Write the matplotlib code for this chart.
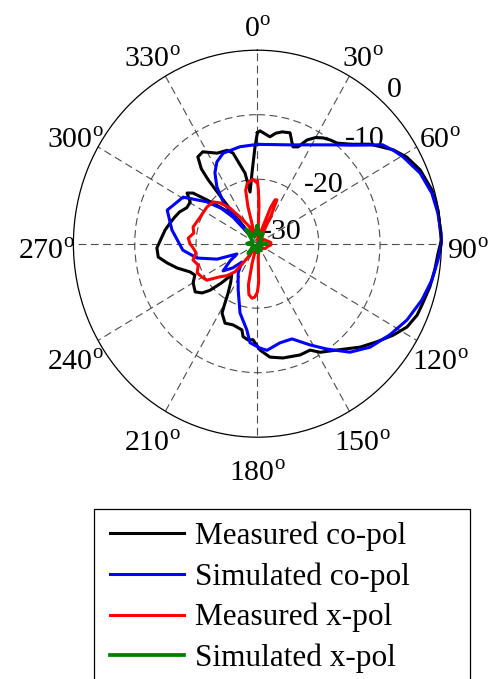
import numpy as np
import matplotlib
matplotlib.use("Agg")
import matplotlib.pyplot as plt
import matplotlib.transforms as mtransforms
from matplotlib.lines import Line2D
from matplotlib.legend_handler import HandlerLine2D

plt.rcParams['font.family'] = ['Liberation Serif', 'DejaVu Serif']
plt.rcParams['mathtext.fontset'] = 'custom'
plt.rcParams['mathtext.rm'] = 'Liberation Serif'

# ---- radiation pattern data (angle in degrees, clockwise from broadside; level in dB) ----
meas_co_theta = [0, 1.4, 4, 7, 10, 13.1, 17.2, 19.5, 21.1, 23.8, 26.7, 30, 33.2, 36.5, 39.8,
                 45, 50, 56.7, 61.1, 66.7, 73.7, 80, 88.9, 92.8, 98, 103.4, 108.8, 113,
                 117.9, 122.6, 128, 133.7, 141.7, 148.7, 152.5, 158, 166.8, 173.4, 178.5,
                 182.8, 186, 189.2, 190.7, 197.5, 203.2, 208.2, 209.9, 212, 216, 221, 224,
                 227, 229.7, 233.6, 240, 244.5, 248.2, 253.9, 258.5, 262.7, 267.7, 273.9,
                 278, 282.7, 287, 291.3, 295.8, 300.5, 304.4, 306.8, 309.5, 313, 316.9,
                 318.4, 319.5, 320.2, 320.6, 321.0, 321.8, 324.2, 328, 334.9, 341.2, 344.2,
                 349.6, 351.5, 355.4, 358.5, 360]
meas_co_db = [-12.8, -12.5, -12.9, -13.3, -12.6, -12.2, -12.0, -13.2, -13.9, -13.6, -12.0,
              -11.0, -10.4, -10.0, -9.7, -8.2, -6.0, -3.5, -2.2, -1.1, -0.35, -0.1, 0.0,
              -0.5, -0.8, -1.1, -1.5, -1.7, -2.4, -3.7, -5.3, -6.8, -9.0, -10.3, -11.4,
              -11.4, -11.8, -12.3, -13.5, -15.1, -15.0, -15.4, -16.4, -16.8, -16.6, -17.8,
              -19.4, -21.0, -22.6, -23.6, -21.5, -19.4, -18.2, -17.4, -17.9, -18.7, -18.2,
              -16.4, -15.0, -13.7, -13.6, -14.4, -14.8, -15.4, -15.9, -16.4, -17.2, -17.3,
              -16.1, -16.9, -19.3, -21.7, -23.5, -25.7, -28.0, -24.7, -21.0, -17.2, -15.2,
              -13.4, -13.2, -14.5, -14.7, -15.4, -18.9, -21.9, -19.0, -15.0, -12.8]

sim_co_theta = [0, 10, 20, 30, 40, 45, 50, 53, 57, 60.5, 67.6, 74.6, 80.8, 86.8, 90, 94.9,
                101.2, 108, 115.9, 123.2, 131.1, 138.1, 145.2, 151.3, 159.1, 166.5, 174.6,
                178.5, 184.5, 187.3, 194.8, 203.7, 214.8, 221.5, 227, 233, 239, 244.5, 250,
                257.3, 265.3, 278.7, 289.5, 300.8, 308.2, 313, 316, 317.3, 318.3, 319,
                323.1, 327.8, 332.5, 338.3, 349.3, 360]
sim_co_db = [-14.6, -14.4, -13.7, -12.3, -10.0, -8.4, -6.2, -4.5, -3.5, -2.7, -1.3, -0.5,
             -0.2, 0.0, 0.0, -0.45, -1.0, -1.8, -2.9, -4.2, -5.6, -7.4, -10.1, -12.1, -14.2,
             -14.2, -13.4, -13.8, -14.6, -16.5, -18.9, -22.2, -24.5, -26.2, -24.5, -23.0,
             -24.8, -26.3, -23.0, -19.9, -17.8, -15.9, -14.4, -15.9, -19.5, -22.0, -24.3,
             -28.5, -25.0, -21.6, -19.0, -17.0, -15.7, -14.9, -14.7, -14.6]

meas_x_theta = [0, 1, 2.5, 4, 8, 14, 18, 21, 23, 25, 27, 29, 40, 55, 70, 85, 95, 105, 120,
                135, 150, 165, 176, 178, 180, 183, 186, 190, 193, 196, 200, 210, 215, 218,
                220, 225, 230, 235.6, 240, 245.3, 251, 256.5, 262, 266.4, 270, 274.4, 279,
                283.8, 293.9, 304.7, 311.9, 316, 321, 325.5, 335, 340, 343, 345, 347, 350,
                353, 356, 359, 360]
meas_x_db = [-20.4, -21.5, -24.0, -28.5, -29.5, -29.0, -27.5, -24.0, -22.6, -22.5, -25.0,
             -29.0, -29.5, -28.8, -28.5, -27.8, -27.8, -28.3, -28.5, -29.0, -29.5, -29.0,
             -28.0, -24.0, -22.5, -21.7, -21.5, -22.0, -23.5, -27.0, -29.5, -29.3, -28.0,
             -26.2, -24.3, -23.0, -22.0, -20.0, -19.6, -19.2, -19.8, -19.2, -19.9, -19.5,
             -19.0, -18.7, -19.5, -19.2, -19.8, -20.0, -20.3, -21.2, -22.9, -25.0, -27.2,
             -28.5, -28.0, -24.0, -21.5, -20.5, -20.2, -20.0, -20.5, -20.4]

sim_x_theta = [0, 10, 20, 30, 45, 60, 90, 120, 150, 165, 180, 200, 225, 245, 270, 295, 320,
               340, 360]
sim_x_db = [-27.3, -28.5, -28.6, -28.2, -29.3, -29.6, -28.4, -29.6, -28.8, -29.4, -28.6,
            -29.5, -27.9, -29.4, -28.3, -29.2, -27.1, -28.8, -27.3]

series_labels = ['Measured co-pol', 'Simulated co-pol', 'Measured x-pol', 'Simulated x-pol']
series_colors = ['#000000', '#0000ff', '#ff0000', '#008000']

angle_ticks = list(range(0, 360, 30))
ring_values = [-30, -20, -10, 0]
ring_grid = [-20, -10]

# ---- figure ----
W, H = 493, 679
fig = plt.figure(figsize=(W / 100, H / 100), dpi=100)
cx, cy, rx, ry = 257.4, 243.7, 184.0, 193.5
ax = fig.add_axes([(cx - rx) / W, (H - cy - ry) / H, 2 * rx / W, 2 * ry / H],
                  projection='polar')
ax.set_aspect('auto')
ax.set_theta_zero_location('N')
ax.set_theta_direction(-1)
ax.set_ylim(ring_values[0], ring_values[-1])
ax.set_thetagrids(angle_ticks, labels=[''] * len(angle_ticks))
ax.set_rgrids(ring_grid, labels=[''] * len(ring_grid))
ax.grid(True, linestyle=(0, (7, 4)), color='0.3', linewidth=0.8)
ax.spines['polar'].set_linewidth(0.9)
ax.spines['polar'].set_color('k')
ax.tick_params(length=0)

series = [(meas_co_theta, meas_co_db), (sim_co_theta, sim_co_db),
          (meas_x_theta, meas_x_db), (sim_x_theta, sim_x_db)]
handles = []
for (th, db), col, lab in zip(series, series_colors, series_labels):
    lw = 2.7 if col == '#008000' else 2.2
    ln, = ax.plot(np.deg2rad(th), db, color=col, lw=lw, label=lab,
                  solid_joinstyle='round', clip_on=False)
    handles.append(ln)

# angle labels around the rim (nudged down so the digits, not the superscript, sit centred)
rim_trans = mtransforms.offset_copy(ax.transData, fig=fig, x=0, y=-9, units='dots')
label_r = ring_values[0] + 1.145 * (ring_values[-1] - ring_values[0])
for a in angle_ticks:
    ax.text(np.deg2rad(a), label_r, f'{a}$^{{\\mathrm{{o}}}}$', ha='center', va='center',
            fontsize=21.5, transform=rim_trans)

# ring level labels
ring_label_r = [-29.0, -19.0, -9.2, 1.05]
for v, rr in zip(ring_values, ring_label_r):
    ax.text(np.deg2rad(43), rr, f'{v}', ha='left', va='baseline', fontsize=21.5, zorder=1.5)

leg = fig.legend(handles, series_labels, loc='upper left',
                 bbox_to_anchor=(94 / W, 1 - 509 / H, (470 - 94) / W, 0), mode='expand',
                 borderaxespad=0, fontsize=22.5, frameon=True, fancybox=False,
                 framealpha=1, borderpad=0.4, handlelength=2.48, handletextpad=0.35,
                 labelspacing=0.36, handler_map={Line2D: HandlerLine2D(xpad=0.11)})
leg.get_frame().set_edgecolor('k')
leg.get_frame().set_linewidth(0.9)

fig.savefig('out.png', dpi=100)
